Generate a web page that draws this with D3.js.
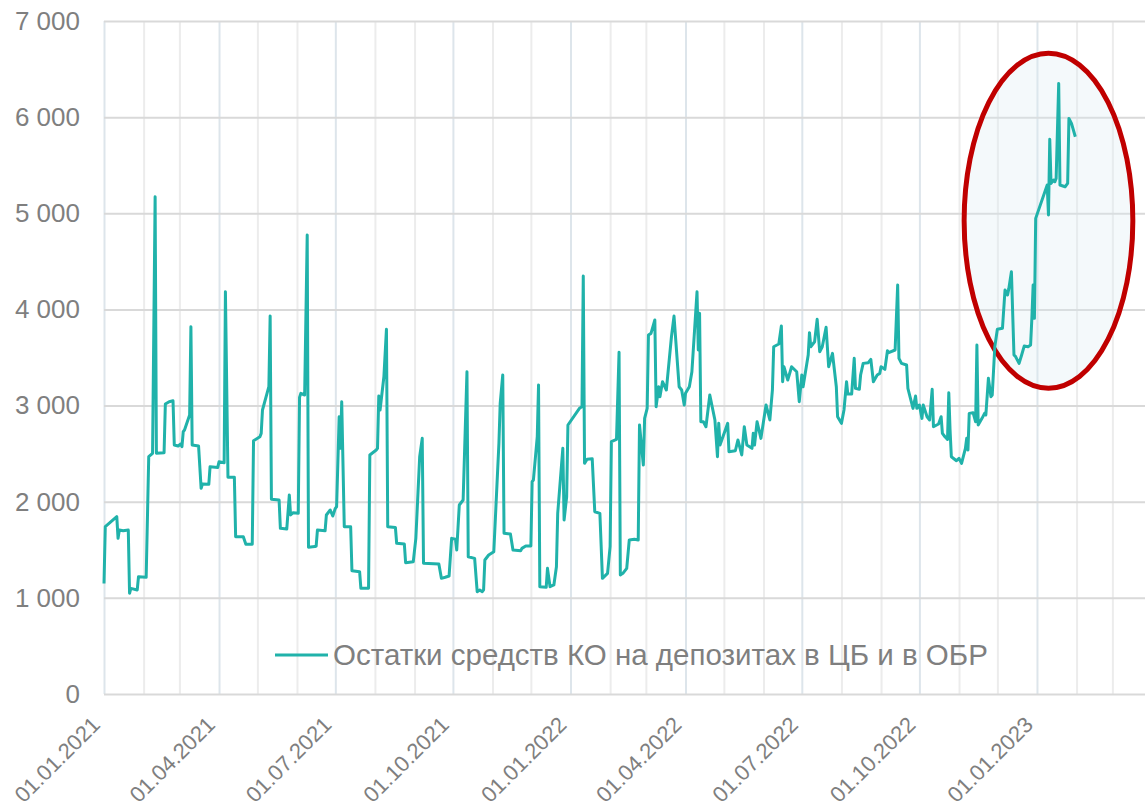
<!DOCTYPE html>
<html lang="ru">
<head>
<meta charset="UTF-8">
<title>Остатки средств КО</title>
<style>
  body { margin: 0; background: #fff; }
  svg text { font-family: "Liberation Sans", Arial, sans-serif; fill: #7f7f7f; }
</style>
</head>
<body>
<div id="chart"></div>
<script src="https://d3js.org/d3.v7.min.js"></script>
<script>
// размеры
const WIDTH = 1145, HEIGHT = 811;
const LEFT = 104, TOP = 21, BOTTOM = 694;
const X_END = 1152; // ось обрезана справа краем картинки

const seriesName = "Остатки средств КО на депозитах в ЦБ и в ОБР";
const yTicks = [0, 1000, 2000, 3000, 4000, 5000, 6000, 7000];
const xLabelDates = ["2021-01-01", "2021-04-01", "2021-07-01", "2021-10-01", "2022-01-01",
                     "2022-04-01", "2022-07-01", "2022-10-01", "2023-01-01"];
const xDomain = ["2021-01-01", "2023-04-01"];

// выделенная область (эллипс), в координатах данных
const highlightDates = ["2022-11-05", "2023-03-17"];
const highlightValues = [3180, 6665];

// дата, млрд руб.
const series = [
  ["2021-01-01", 1150], ["2021-01-02", 1740], ["2021-01-11", 1844], ["2021-01-12", 1619],
  ["2021-01-13", 1705], ["2021-01-16", 1698], ["2021-01-20", 1705], ["2021-01-21", 1047],
  ["2021-01-22", 1099], ["2021-01-27", 1082], ["2021-01-28", 1220], ["2021-02-03", 1214],
  ["2021-02-05", 2468], ["2021-02-08", 2503], ["2021-02-10", 5172], ["2021-02-11", 2503],
  ["2021-02-17", 2510], ["2021-02-18", 3016], ["2021-02-21", 3040], ["2021-02-24", 3050],
  ["2021-02-25", 2590], ["2021-02-28", 2579], ["2021-03-02", 2600], ["2021-03-03", 2572],
  ["2021-03-04", 2728], ["2021-03-05", 2746], ["2021-03-09", 2902], ["2021-03-10", 3820],
  ["2021-03-11", 2590], ["2021-03-16", 2579], ["2021-03-18", 2139], ["2021-03-19", 2184],
  ["2021-03-24", 2181], ["2021-03-25", 2364], ["2021-03-31", 2357], ["2021-04-01", 2416],
  ["2021-04-05", 2406], ["2021-04-06", 4184], ["2021-04-08", 2254], ["2021-04-13", 2254],
  ["2021-04-14", 1636], ["2021-04-20", 1636], ["2021-04-22", 1557], ["2021-04-27", 1557],
  ["2021-04-28", 2634], ["2021-05-03", 2676], ["2021-05-04", 2711], ["2021-05-05", 2954],
  ["2021-05-10", 3196], ["2021-05-11", 3931], ["2021-05-12", 2025], ["2021-05-18", 2018],
  ["2021-05-19", 1723], ["2021-05-24", 1716], ["2021-05-26", 2070], ["2021-05-27", 1862],
  ["2021-05-29", 1886], ["2021-06-02", 1879], ["2021-06-03", 3085], ["2021-06-04", 3127],
  ["2021-06-07", 3110], ["2021-06-09", 4774], ["2021-06-10", 1526], ["2021-06-15", 1533],
  ["2021-06-16", 1539], ["2021-06-17", 1705], ["2021-06-23", 1698], ["2021-06-24", 1862],
  ["2021-06-27", 1914], ["2021-06-29", 1851], ["2021-07-01", 1931], ["2021-07-02", 1948],
  ["2021-07-04", 2884], ["2021-07-05", 2555], ["2021-07-06", 3040], ["2021-07-08", 1740],
  ["2021-07-13", 1740], ["2021-07-14", 1282], ["2021-07-20", 1272], ["2021-07-21", 1099],
  ["2021-07-27", 1099], ["2021-07-28", 2486], ["2021-08-02", 2538], ["2021-08-03", 2555],
  ["2021-08-04", 3099], ["2021-08-05", 2954], ["2021-08-08", 3300], ["2021-08-10", 3793],
  ["2021-08-11", 1740], ["2021-08-17", 1733], ["2021-08-18", 1567], ["2021-08-24", 1560],
  ["2021-08-25", 1366], ["2021-08-31", 1376], ["2021-09-02", 1619], ["2021-09-05", 2468],
  ["2021-09-07", 2659], ["2021-09-08", 1359], ["2021-09-20", 1352], ["2021-09-22", 1203],
  ["2021-09-25", 1214], ["2021-09-28", 1227], ["2021-09-30", 1619], ["2021-10-03", 1609],
  ["2021-10-04", 1498], ["2021-10-06", 1966], ["2021-10-09", 2018], ["2021-10-12", 3352],
  ["2021-10-13", 1428], ["2021-10-18", 1411], ["2021-10-20", 1064], ["2021-10-22", 1082],
  ["2021-10-24", 1064], ["2021-10-25", 1082], ["2021-10-26", 1394], ["2021-10-29", 1446],
  ["2021-11-02", 1480], ["2021-11-06", 2607], ["2021-11-07", 3023], ["2021-11-09", 3318],
  ["2021-11-10", 1671], ["2021-11-15", 1664], ["2021-11-17", 1498], ["2021-11-23", 1490],
  ["2021-11-24", 1515], ["2021-11-27", 1539], ["2021-12-01", 1539], ["2021-12-02", 2208],
  ["2021-12-03", 2226], ["2021-12-06", 2676], ["2021-12-07", 3214], ["2021-12-08", 1116],
  ["2021-12-13", 1110], ["2021-12-14", 1307], ["2021-12-16", 1116], ["2021-12-19", 1134],
  ["2021-12-21", 1324], ["2021-12-22", 1879], ["2021-12-26", 2555], ["2021-12-27", 1810],
  ["2021-12-29", 2052], ["2021-12-30", 2798],
  ["2022-01-08", 2971], ["2022-01-10", 2988], ["2022-01-11", 4347], ["2022-01-12", 2399],
  ["2022-01-14", 2441], ["2022-01-18", 2447], ["2022-01-20", 1896], ["2022-01-24", 1879],
  ["2022-01-26", 1203], ["2022-01-30", 1255], ["2022-02-01", 1533], ["2022-02-02", 2624],
  ["2022-02-06", 2648], ["2022-02-08", 3554], ["2022-02-09", 1238], ["2022-02-11", 1255],
  ["2022-02-14", 1307], ["2022-02-16", 1602], ["2022-02-20", 1609], ["2022-02-23", 1602],
  ["2022-02-24", 2798], ["2022-02-27", 2382], ["2022-02-28", 2867], ["2022-03-02", 2971],
  ["2022-03-03", 3734], ["2022-03-05", 3751], ["2022-03-08", 3890], ["2022-03-09", 2988],
  ["2022-03-11", 3196], ["2022-03-12", 3092], ["2022-03-14", 3248], ["2022-03-17", 3162],
  ["2022-03-21", 3716], ["2022-03-23", 3931], ["2022-03-27", 3196], ["2022-03-29", 3162],
  ["2022-03-31", 3006], ["2022-04-01", 3127], ["2022-04-04", 3196], ["2022-04-06", 3352],
  ["2022-04-10", 4184], ["2022-04-11", 3578], ["2022-04-12", 3959], ["2022-04-13", 2832],
  ["2022-04-15", 2832], ["2022-04-17", 2780], ["2022-04-20", 3110], ["2022-04-24", 2850],
  ["2022-04-26", 2468], ["2022-04-27", 2815], ["2022-04-28", 2590], ["2022-05-04", 2815],
  ["2022-05-05", 2520], ["2022-05-10", 2530], ["2022-05-12", 2642], ["2022-05-15", 2486],
  ["2022-05-17", 2780], ["2022-05-19", 2590], ["2022-05-23", 2555], ["2022-05-24", 2711],
  ["2022-05-25", 2590], ["2022-05-27", 2832], ["2022-05-30", 2659], ["2022-06-03", 3006],
  ["2022-06-06", 2850], ["2022-06-08", 3162], ["2022-06-09", 3612], ["2022-06-13", 3640],
  ["2022-06-15", 3827], ["2022-06-16", 3248], ["2022-06-17", 3404], ["2022-06-20", 3266],
  ["2022-06-23", 3404], ["2022-06-27", 3352], ["2022-06-29", 3040], ["2022-07-01", 3318],
  ["2022-07-02", 3196], ["2022-07-06", 3526], ["2022-07-07", 3758], ["2022-07-08", 3612],
  ["2022-07-11", 3664], ["2022-07-13", 3897], ["2022-07-15", 3560], ["2022-07-17", 3612],
  ["2022-07-20", 3814], ["2022-07-22", 3404], ["2022-07-25", 3543], ["2022-07-28", 3196],
  ["2022-07-29", 2884], ["2022-08-01", 2815], ["2022-08-03", 2954], ["2022-08-05", 3248],
  ["2022-08-06", 3120], ["2022-08-09", 3120], ["2022-08-11", 3491], ["2022-08-12", 3179],
  ["2022-08-15", 3169], ["2022-08-16", 3318], ["2022-08-18", 3439], ["2022-08-22", 3446],
  ["2022-08-24", 3481], ["2022-08-26", 3248], ["2022-08-29", 3318], ["2022-08-31", 3335],
  ["2022-09-01", 3404], ["2022-09-04", 3377], ["2022-09-06", 3570], ["2022-09-07", 3550],
  ["2022-09-12", 3578], ["2022-09-14", 4254], ["2022-09-15", 3491], ["2022-09-17", 3439],
  ["2022-09-21", 3422], ["2022-09-22", 3179], ["2022-09-26", 2971], ["2022-09-28", 3099],
  ["2022-09-29", 2971], ["2022-10-01", 3006], ["2022-10-03", 2867], ["2022-10-04", 3006],
  ["2022-10-07", 2884], ["2022-10-09", 2850], ["2022-10-11", 3169], ["2022-10-12", 2780],
  ["2022-10-16", 2808], ["2022-10-18", 2884], ["2022-10-19", 2711], ["2022-10-21", 2676],
  ["2022-10-23", 2648], ["2022-10-24", 3134], ["2022-10-25", 2746], ["2022-10-26", 2468],
  ["2022-10-30", 2426], ["2022-11-01", 2451], ["2022-11-03", 2399], ["2022-11-06", 2555],
  ["2022-11-07", 2659], ["2022-11-08", 2538], ["2022-11-09", 2919], ["2022-11-12", 2926],
  ["2022-11-14", 2832], ["2022-11-15", 3630], ["2022-11-16", 2798], ["2022-11-19", 2867],
  ["2022-11-21", 2919], ["2022-11-22", 2902], ["2022-11-24", 3283], ["2022-11-26", 3092],
  ["2022-11-27", 3110], ["2022-11-29", 3612], ["2022-12-01", 3793], ["2022-12-05", 3804],
  ["2022-12-07", 4202], ["2022-12-09", 4150], ["2022-12-10", 4219], ["2022-12-12", 4392],
  ["2022-12-14", 3526], ["2022-12-15", 3515], ["2022-12-18", 3439], ["2022-12-20", 3526],
  ["2022-12-22", 3619], ["2022-12-25", 3612], ["2022-12-27", 3630], ["2022-12-28", 3907],
  ["2022-12-29", 4254], ["2022-12-30", 3907], ["2022-12-31", 4947],
  ["2023-01-09", 5294], ["2023-01-10", 4982], ["2023-01-11", 5769], ["2023-01-12", 5311],
  ["2023-01-14", 5346], ["2023-01-15", 5328], ["2023-01-16", 5363], ["2023-01-18", 6351],
  ["2023-01-19", 5294], ["2023-01-23", 5276], ["2023-01-25", 5311], ["2023-01-26", 5987],
  ["2023-01-28", 5935], ["2023-01-31", 5796]
];

const parse = d3.timeParse("%Y-%m-%d");
const LINE_COLOR = "#20b2aa";

const x = d3.scaleTime()
  .domain(xDomain.map(parse))
  .range([LEFT, X_END]);

const y = d3.scaleLinear()
  .domain([0, 7000])
  .range([BOTTOM, TOP]);

const svg = d3.select("#chart")
  .append("svg")
  .attr("width", WIDTH)
  .attr("height", HEIGHT)
  .style("display", "block");

svg.append("rect").attr("width", WIDTH).attr("height", HEIGHT).attr("fill", "#fff");

// вертикальная сетка по месяцам
const months = d3.timeMonth.range(parse(xDomain[0]), parse(xDomain[1]));
const vGrid = svg.append("g")
  .attr("transform", `translate(0, ${BOTTOM})`)
  .call(d3.axisBottom(x).tickValues(months).tickSize(-(BOTTOM - TOP)).tickFormat(""));
vGrid.select(".domain").remove();
vGrid.selectAll(".tick line")
  .attr("stroke", d => d.getMonth() % 3 === 0 ? "#dde5eb" : "#ececec")
  .attr("stroke-width", 2);

// горизонтальная сетка и подписи оси Y
const fmt = v => d3.format(",")(v).replace(/,/g, " ");
const yAxis = svg.append("g")
  .attr("transform", `translate(${LEFT}, 0)`)
  .call(d3.axisLeft(y).tickValues(yTicks).tickSize(-(WIDTH - LEFT)).tickPadding(24).tickFormat(fmt));
yAxis.select(".domain").remove();
yAxis.selectAll(".tick line").attr("stroke", "#d9d9d9").attr("stroke-width", 2);
yAxis.selectAll(".tick text")
  .attr("font-size", 26)
  .attr("font-family", "Liberation Sans, Arial, sans-serif")
  .attr("fill", "#7f7f7f");

// подписи оси X
const xAxis = svg.append("g")
  .attr("transform", `translate(0, ${BOTTOM})`)
  .call(d3.axisBottom(x).tickValues(xLabelDates.map(parse)).tickSize(0).tickFormat(d3.timeFormat("%d.%m.%Y")));
xAxis.select(".domain").remove();
xAxis.selectAll(".tick text")
  .attr("font-size", 22)
  .attr("font-family", "Liberation Sans, Arial, sans-serif")
  .attr("fill", "#7f7f7f")
  .attr("text-anchor", "end")
  .attr("y", 0)
  .attr("dy", 0)
  .attr("transform", "translate(-3, 32) rotate(-45)");

// эллипс-выделение
const hx = highlightDates.map(parse).map(x);
const hy = highlightValues.map(y);
svg.append("ellipse")
  .attr("cx", (hx[0] + hx[1]) / 2)
  .attr("cy", (hy[0] + hy[1]) / 2)
  .attr("rx", Math.abs(hx[1] - hx[0]) / 2)
  .attr("ry", Math.abs(hy[1] - hy[0]) / 2)
  .attr("fill", "#dbeaf1")
  .attr("fill-opacity", 0.3)
  .attr("stroke", "#c00000")
  .attr("stroke-width", 5);

// линия ряда
const line = d3.line()
  .x(d => x(parse(d[0])))
  .y(d => y(d[1]));

svg.append("path")
  .datum(series)
  .attr("d", line)
  .attr("fill", "none")
  .attr("stroke", LINE_COLOR)
  .attr("stroke-width", 3)
  .attr("stroke-linejoin", "round");

// легенда
const legend = svg.append("g").attr("transform", "translate(275, 655)");
legend.append("line")
  .attr("x1", 0).attr("x2", 53)
  .attr("stroke", LINE_COLOR)
  .attr("stroke-width", 3);
legend.append("text")
  .attr("x", 58)
  .attr("y", 10)
  .attr("font-size", 29.5)
  .text(seriesName);
</script>
</body>
</html>
